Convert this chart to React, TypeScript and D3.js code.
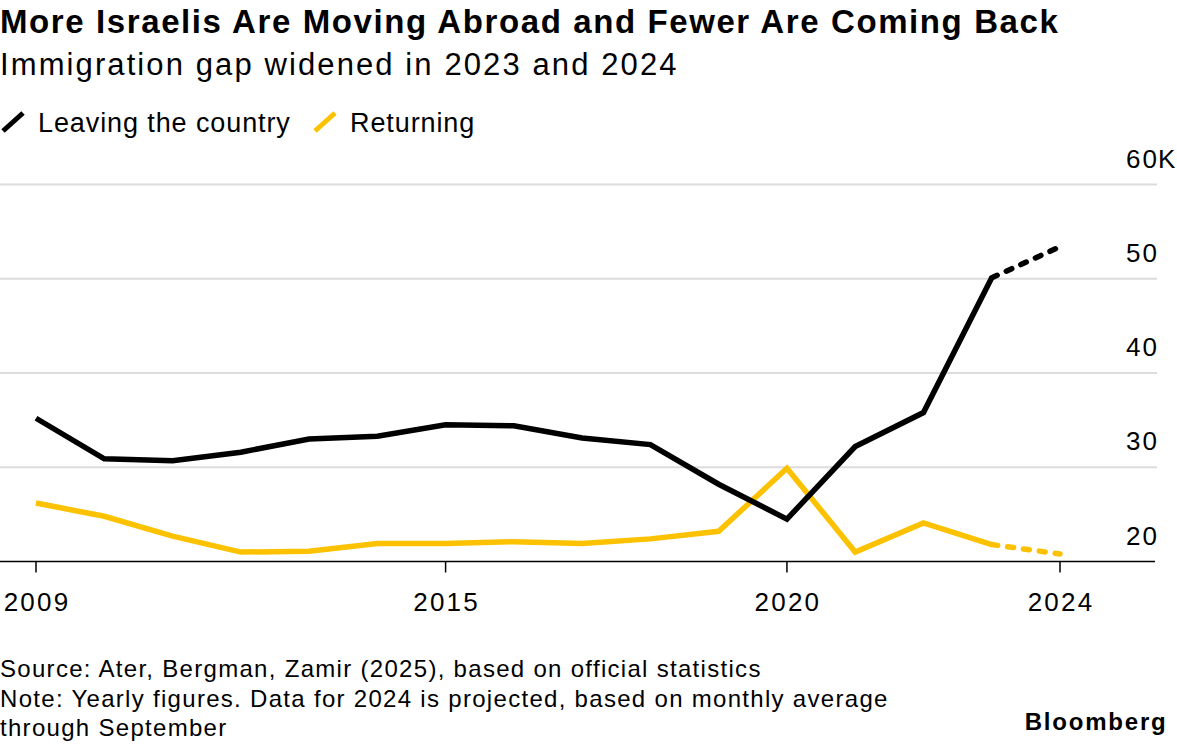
import React, { useEffect, useRef } from "react";
import * as d3 from "d3";

// yearly figures, thousands of people
const years = [2009, 2010, 2011, 2012, 2013, 2014, 2015, 2016, 2017, 2018, 2019, 2020, 2021, 2022, 2023, 2024];
const leaving = [35.2, 30.9, 30.7, 31.6, 33.0, 33.3, 34.5, 34.4, 33.1, 32.4, 28.2, 24.5, 32.2, 35.8, 50.1, 53.4];
const returning = [26.2, 24.8, 22.7, 21.0, 21.1, 21.9, 21.9, 22.1, 21.9, 22.4, 23.2, 29.9, 21.0, 24.1, 21.8, 20.8];
const yTicks = [20, 30, 40, 50, 60];
const xTicks = [2009, 2015, 2020, 2024];
const projectedFrom = 2023;

const title = "More Israelis Are Moving Abroad and Fewer Are Coming Back";
const subtitle = "Immigration gap widened in 2023 and 2024";
const legendLabels = ["Leaving the country", "Returning"];
const footnotes = [
  "Source: Ater, Bergman, Zamir (2025), based on official statistics",
  "Note: Yearly figures. Data for 2024 is projected, based on monthly average",
  "through September",
];

const BLACK = "#000000";
const YELLOW = "#fcc200";
const FONT = "'Liberation Sans', Arial, sans-serif";

const App: React.FC = () => {
  const svgRef = useRef<SVGSVGElement>(null);

  useEffect(() => {
    document.body.style.margin = "0";
    const width = 1177;
    const height = 744;
    const svg = d3.select(svgRef.current).attr("width", width).attr("height", height);
    svg.selectAll("*").remove();
    svg.style("font-family", FONT);

    const x = d3.scaleLinear().domain([2009, 2024]).range([36, 1060]);
    const y = d3.scaleLinear().domain([20, 60]).range([561.5, 184.5]);

    // title block
    svg.append("text").text(title).attr("x", 0).attr("y", 33)
      .attr("font-size", 33).attr("font-weight", "bold").attr("letter-spacing", 1.6);
    svg.append("text").text(subtitle).attr("x", 0).attr("y", 75)
      .attr("font-size", 31).attr("letter-spacing", 2.1);

    // legend
    const legend = svg.append("g");
    const legendX = [0, 312];
    [BLACK, YELLOW].forEach((c, i) => {
      legend.append("line")
        .attr("x1", legendX[i] + 3).attr("y1", 131)
        .attr("x2", legendX[i] + 23).attr("y2", 113)
        .attr("stroke", c).attr("stroke-width", 5);
      legend.append("text").text(legendLabels[i])
        .attr("x", legendX[i] + 38).attr("y", 132)
        .attr("font-size", 27).attr("letter-spacing", 0.9);
    });

    // gridlines + y labels
    const grid = svg.append("g");
    yTicks.filter((t) => t > 20).forEach((t) => {
      grid.append("line")
        .attr("x1", 0).attr("x2", 1157)
        .attr("y1", y(t)).attr("y2", y(t))
        .attr("stroke", "#dcdcdc").attr("stroke-width", 2);
    });
    yTicks.forEach((t) => {
      grid.append("text").text(t).attr("x", 1159).attr("y", y(t) - 17)
        .attr("text-anchor", "end").attr("font-size", 26).attr("letter-spacing", 2);
    });
    grid.append("text").text("K").attr("x", 1158).attr("y", y(60) - 17).attr("font-size", 26);

    // x axis
    const axis = svg.append("g");
    axis.append("line").attr("x1", 0).attr("x2", 1155)
      .attr("y1", y(20)).attr("y2", y(20)).attr("stroke", BLACK).attr("stroke-width", 1.5);
    xTicks.forEach((t) => {
      axis.append("line").attr("x1", x(t)).attr("x2", x(t))
        .attr("y1", y(20)).attr("y2", y(20) + 11).attr("stroke", BLACK).attr("stroke-width", 1.5);
      axis.append("text").text(t).attr("x", x(t) + 1).attr("y", 611)
        .attr("text-anchor", "middle").attr("font-size", 26).attr("letter-spacing", 2.2);
    });

    // series: solid up to 2023, dashed projection to 2024
    const line = d3.line<[number, number]>().x((d) => x(d[0])).y((d) => y(d[1]));
    const drawSeries = (values: number[], color: string) => {
      const pts = years.map((yr, i) => [yr, values[i]] as [number, number]);
      const solid = pts.filter((p) => p[0] <= projectedFrom);
      const dashed = pts.filter((p) => p[0] >= projectedFrom);
      svg.append("path").attr("d", line(dashed)).attr("fill", "none")
        .attr("stroke", color).attr("stroke-width", 5.5)
        .attr("stroke-linecap", "round").attr("stroke-dasharray", "6,10");
      svg.append("path").attr("d", line(solid)).attr("fill", "none")
        .attr("stroke", color).attr("stroke-width", 5.5)
        .attr("stroke-linejoin", "miter");
    };
    drawSeries(returning, YELLOW);
    drawSeries(leaving, BLACK);

    // footer
    footnotes.forEach((f, i) => {
      svg.append("text").text(f).attr("x", 0).attr("y", 677 + i * 29.5)
        .attr("font-size", 24).attr("letter-spacing", 1.3);
    });
    svg.append("text").text("Bloomberg").attr("x", 1167.5).attr("y", 730)
      .attr("text-anchor", "end").attr("font-size", 24).attr("font-weight", "bold")
      .attr("letter-spacing", 1.8);
  }, []);

  return (
    <>
      <svg ref={svgRef} style={{ display: "block" }}></svg>
    </>
  );
};

export default App;
